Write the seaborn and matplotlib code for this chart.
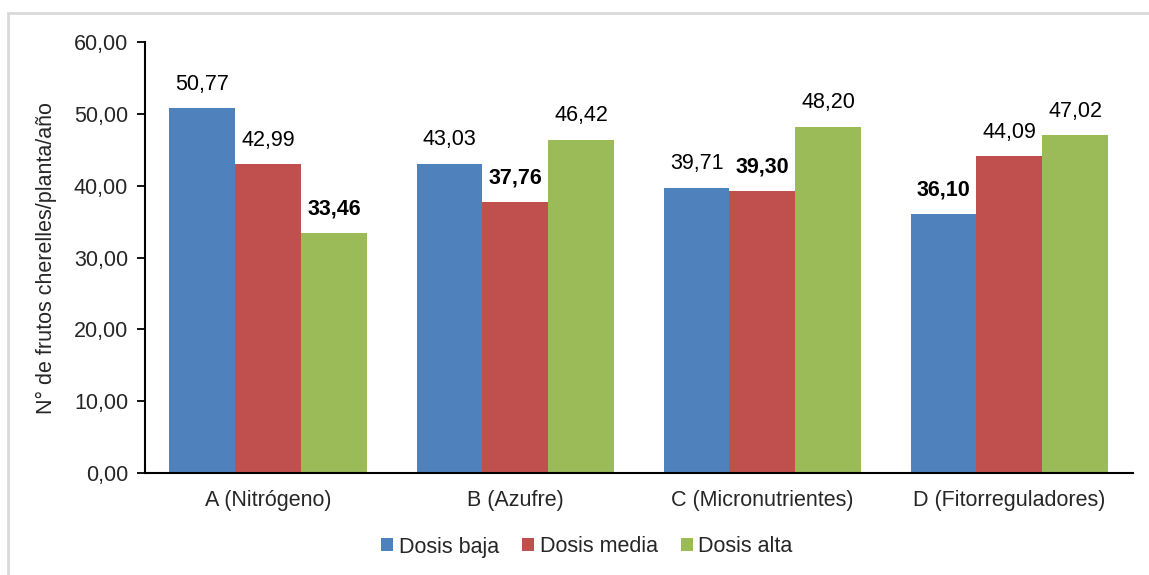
import pandas as pd
import numpy as np
import matplotlib.pyplot as plt
import matplotlib.patches as mpatches
import seaborn as sns

# data
categorias = ["A (Nitrógeno)", "B (Azufre)", "C (Micronutrientes)", "D (Fitorreguladores)"]
dosis = ["Dosis baja", "Dosis media", "Dosis alta"]
baja = [50.77, 43.03, 39.71, 36.10]
media = [42.99, 37.76, 39.30, 44.09]
alta = [33.46, 46.42, 48.20, 47.02]
colores = ["#4F81BD", "#C0504D", "#9BBB59"]

df = pd.DataFrame({
    "cat": categorias * 3,
    "dosis": [dosis[0]] * 4 + [dosis[1]] * 4 + [dosis[2]] * 4,
    "valor": baja + media + alta,
})

sns.set_style("white")
plt.rcParams['font.family'] = ['Liberation Sans', 'DejaVu Sans']
fs = 15.5

fig = plt.figure(figsize=(11.49, 5.75), dpi=100)
ax = fig.add_axes([0.126, 0.177, 0.86, 0.75])

sns.barplot(data=df, x="cat", y="valor", hue="dosis", hue_order=dosis,
            palette=colores, width=0.8, saturation=1, linewidth=0, ax=ax, legend=True)

# labels; bold for the lowest value in each group
vals = np.array([baja, media, alta])
for j, cont in enumerate(ax.containers):
    for i, bar in enumerate(cont):
        v = bar.get_height()
        peso = "bold" if v == vals[:, i].min() else "normal"
        ax.text(bar.get_x() + bar.get_width() / 2, v + 1.9,
                f"{v:.2f}".replace(".", ","), ha="center", va="bottom",
                fontsize=fs, fontweight=peso, color="black")

ax.set_ylim(0, 60)
ax.set_xlim(-0.5, 3.5)
ax.set_yticks(np.arange(0, 61, 10))
ax.set_yticklabels([f"{t:.2f}".replace(".", ",") for t in np.arange(0, 61, 10)], fontsize=fs)
ax.set_xticks([0, 1, 2, 3])
ax.set_xticklabels(categorias, fontsize=fs)
ax.tick_params(axis="x", which="major", length=0, pad=12)
ax.set_xticks([-0.5, 0.5, 1.5, 2.5, 3.5], minor=True)
ax.tick_params(axis="x", which="minor", length=6, width=1.3, color="black", direction="out")
ax.tick_params(axis="y", length=6, width=1.3, color="black", direction="out", left=True, pad=6)
ax.set_xlabel("")
ax.set_ylabel("N° de frutos cherelles/planta/año", fontsize=fs, labelpad=12)
sns.despine(ax=ax, top=True, right=True)
for s in ["left", "bottom"]:
    ax.spines[s].set_color("black")
    ax.spines[s].set_linewidth(1.5)

leg = ax.legend(loc="center", bbox_to_anchor=(587 / 1149, 1 - 547 / 575),
                bbox_transform=fig.transFigure, ncol=3, frameon=False,
                fontsize=fs, handlelength=0.55, handleheight=0.55, handletextpad=0.25,
                columnspacing=1.1)

# light frame around the chart
fig.patches.append(mpatches.Rectangle((8 / 1149, -0.1), 1.2, 1 - 13 / 575 + 0.1,
                                      transform=fig.transFigure, fill=False,
                                      edgecolor="#D9D9D9", linewidth=2))

fig.savefig("out.png", dpi=100)
